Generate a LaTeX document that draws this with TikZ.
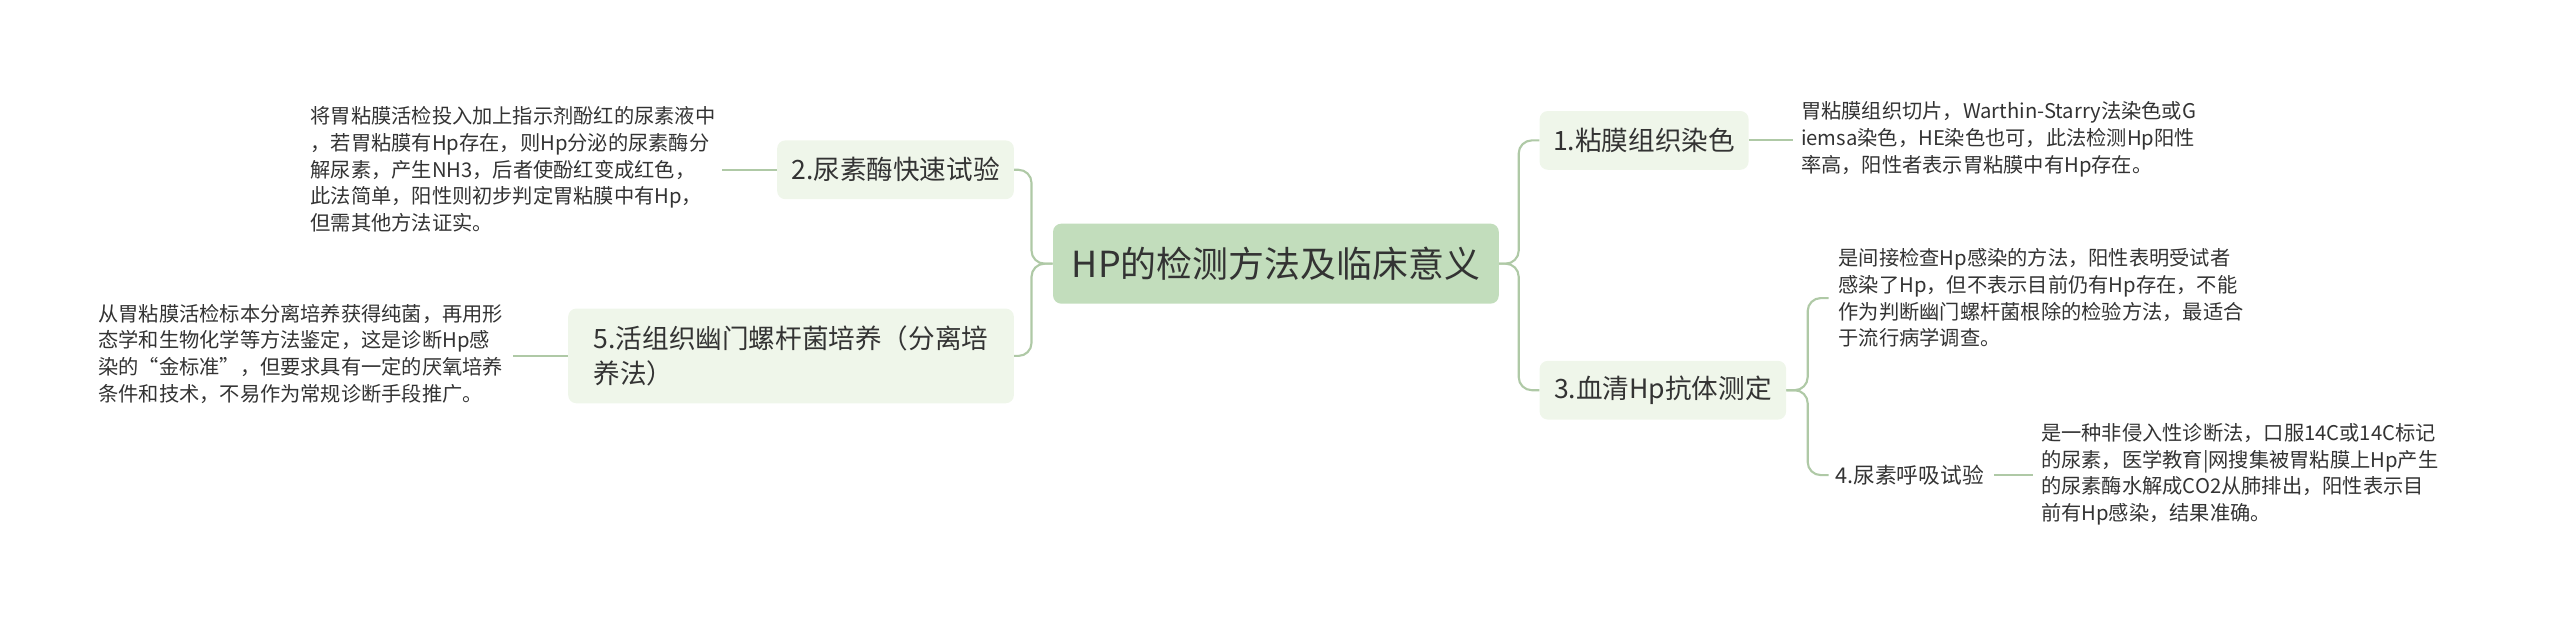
\documentclass[tikz,border=0pt]{standalone}
\usepackage{fontspec}
\setmainfont{Noto Sans CJK SC}
\definecolor{cfill}{HTML}{C2DDBC}
\definecolor{bfill}{HTML}{EFF6EA}
\definecolor{lcol}{HTML}{AFC9A6}
\definecolor{tcol}{HTML}{333333}
\begin{document}
\begin{tikzpicture}[x=1pt,y=-1pt,
 center/.style={fill=cfill,rounded corners=5,minimum width=273,minimum height=49,text=tcol,font=\fontsize{22}{26}\selectfont,inner sep=0},
 branch/.style={fill=bfill,rounded corners=5,minimum height=36,text=tcol,font=\fontsize{16.3}{22}\selectfont,inner xsep=8,inner ysep=0},
 leaf/.style={anchor=north west,align=left,text=tcol,font=\fontsize{12.4}{16.4}\selectfont,inner sep=0},
 conn/.style={draw=lcol,line width=1.3,rounded corners=8}]
\useasboundingbox (0,0) rectangle (1568,385);
\node[center] (c) at (781.5,161.5) {HP的检测方法及临床意义};
\node[branch,minimum width=145] (b2) at (548.5,104) {2.尿素酶快速试验};
\node[branch,minimum width=273,minimum height=58,align=left] (b5) at (484.5,218) {5.活组织幽门螺杆菌培养（分离培\\养法）};
\node[branch,minimum width=128] (b1) at (1007,86) {1.粘膜组织染色};
\node[branch,minimum width=151] (b3) at (1018.5,239) {3.血清Hp抗体测定};
\node[text=tcol,font=\fontsize{13.3}{16}\selectfont,inner sep=0,anchor=west] (b4) at (1124,291) {4.尿素呼吸试验};
\node[leaf] (l2) at (190,65) {将胃粘膜活检投入加上指示剂酚红的尿素液中\\，若胃粘膜有Hp存在，则Hp分泌的尿素酶分\\解尿素，产生NH3，后者使酚红变成红色，\\此法简单，阳性则初步判定胃粘膜中有Hp，\\但需其他方法证实。};
\node[leaf] (l5) at (60,186) {从胃粘膜活检标本分离培养获得纯菌，再用形\\态学和生物化学等方法鉴定，这是诊断Hp感\\染的“金标准”，但要求具有一定的厌氧培养\\条件和技术，不易作为常规诊断手段推广。};
\node[leaf] (l1) at (1103,62) {胃粘膜组织切片，Warthin-Starry法染色或G\\iemsa染色，HE染色也可，此法检测Hp阳性\\率高，阳性者表示胃粘膜中有Hp存在。};
\node[leaf] (l3) at (1126,152) {是间接检查Hp感染的方法，阳性表明受试者\\感染了Hp，但不表示目前仍有Hp存在，不能\\作为判断幽门螺杆菌根除的检验方法，最适合\\于流行病学调查。};
\node[leaf] (l4) at (1250,259) {是一种非侵入性诊断法，口服14C或14C标记\\的尿素，医学教育|网搜集被胃粘膜上Hp产生\\的尿素酶水解成CO2从肺排出，阳性表示目\\前有Hp感染，结果准确。};
\draw[conn] (c.west) -- ++(-13,0) |- (b2.east);
\draw[conn] (c.west) -- ++(-13,0) |- (b5.east);
\draw[conn] (c.east) -- ++(12,0) |- (b1.west);
\draw[conn] (c.east) -- ++(12,0) |- (b3.west);
\draw[conn] (b3.east) -- ++(13,0) |- ([xshift=-6]l3.west);
\draw[conn] (b3.east) -- ++(13,0) |- ([xshift=-4]b4.west);
\draw[conn] (b2.west) -- ([xshift=4]l2.east |- b2.west);
\draw[conn] (b5.west) -- ([xshift=6]l5.east |- b5.west);
\draw[conn] (b1.east) -- ([xshift=-5]l1.west |- b1.east);
\draw[conn] ([xshift=6]b4.east) -- ([xshift=-5]l4.west |- b4.east);
\end{tikzpicture}
\end{document}
